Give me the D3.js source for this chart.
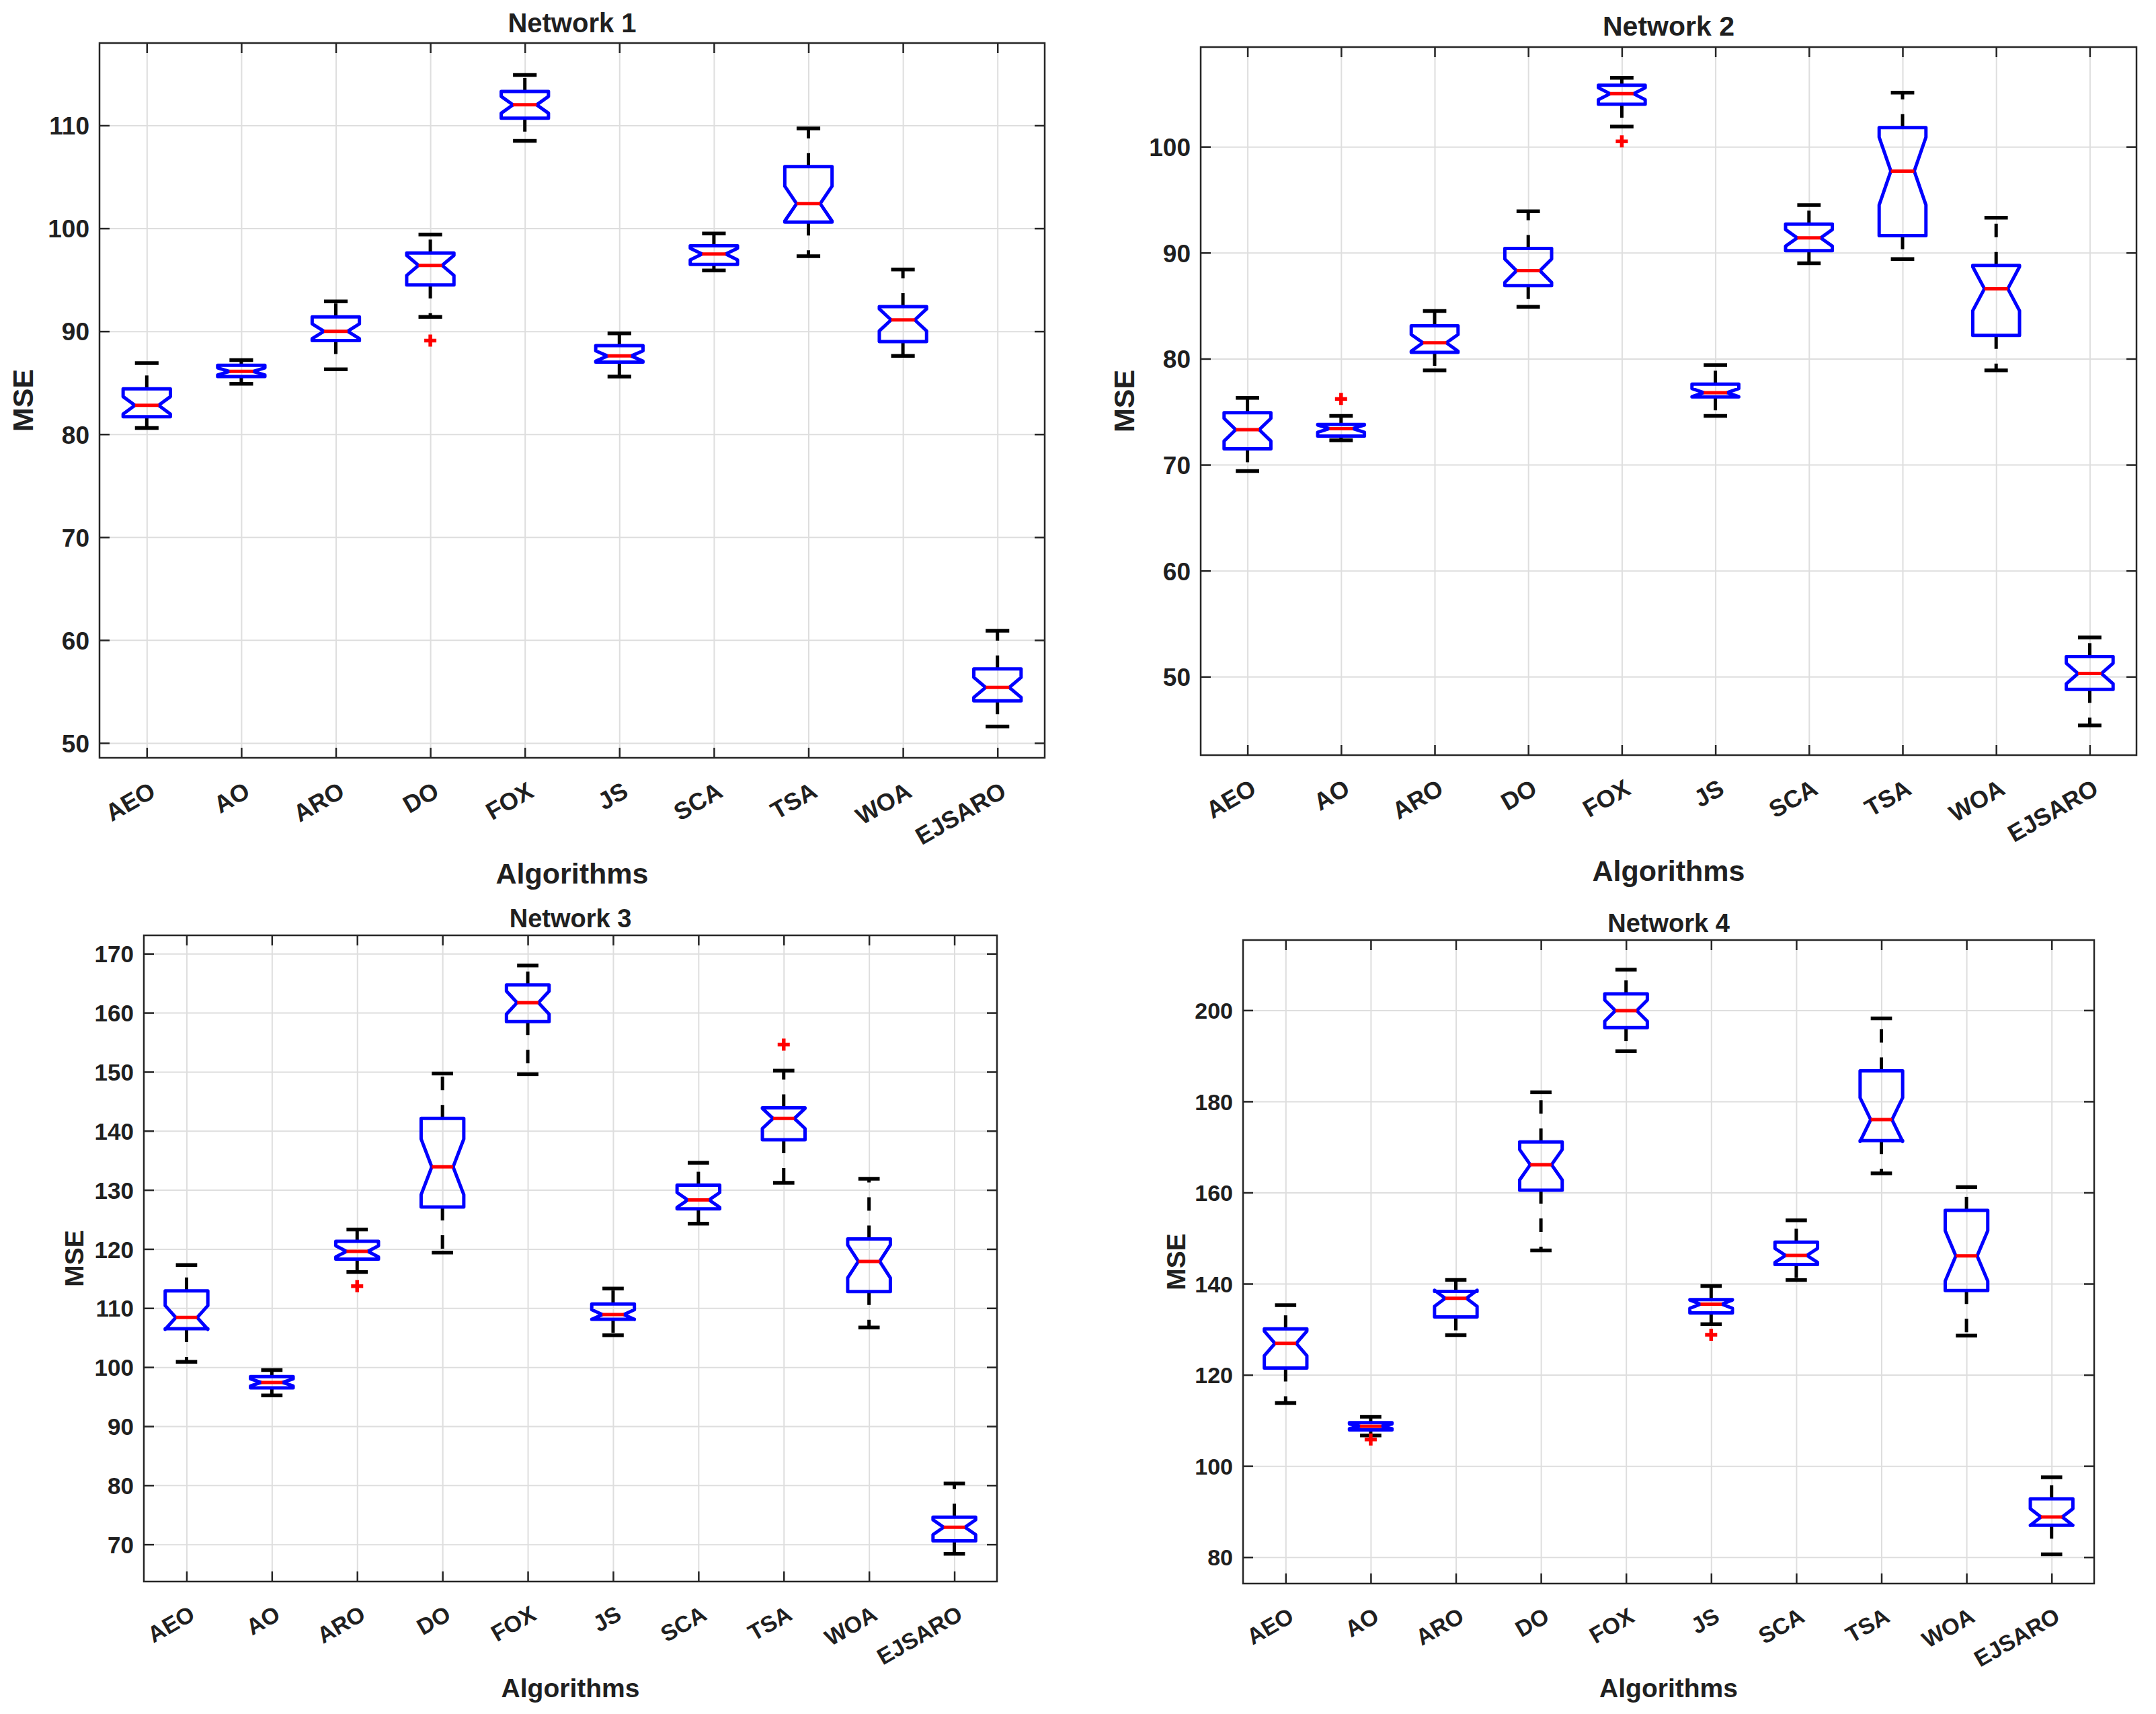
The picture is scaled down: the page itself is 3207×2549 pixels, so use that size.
<!DOCTYPE html>
<html>
<head>
<meta charset="utf-8">
<script src="https://cdn.jsdelivr.net/npm/d3@7"></script>
<style>
  body { margin: 0; background: #fff; }
  text { font-family: "Liberation Sans", Arial, sans-serif; font-weight: bold; fill: #202020; }
</style>
</head>
<body>
<script>
// algorithms on the x axis
var algorithms = ["AEO", "AO", "ARO", "DO", "FOX", "JS", "SCA", "TSA", "WOA", "EJSARO"];

// box statistics: lower whisker, q1, median, q3, upper whisker
var net1Lo  = [80.6, 84.9, 86.3, 91.4, 108.5, 85.6, 95.9, 97.3, 87.6, 51.6];
var net1Q1  = [81.7, 85.6, 89.1, 94.5, 110.7, 87.0, 96.5, 100.6, 89.0, 54.1];
var net1Med = [82.8, 86.1, 90.0, 96.4, 112.0, 87.6, 97.5, 102.4, 91.1, 55.4];
var net1Q3  = [84.4, 86.7, 91.4, 97.6, 113.3, 88.6, 98.3, 106.0, 92.4, 57.2];
var net1Hi  = [86.9, 87.2, 92.9, 99.4, 114.9, 89.8, 99.5, 109.7, 96.0, 60.9];
var net1Out = [["DO", 89.1]];

var net2Lo  = [69.4, 72.3, 78.9, 84.9, 101.9, 74.6, 89.0, 89.4, 78.9, 45.4];
var net2Q1  = [71.5, 72.7, 80.6, 86.9, 104.0, 76.4, 90.2, 91.6, 82.2, 48.8];
var net2Med = [73.3, 73.4, 81.5, 88.3, 105.0, 76.8, 91.4, 97.7, 86.6, 50.3];
var net2Q3  = [74.9, 73.8, 83.1, 90.4, 105.8, 77.6, 92.7, 101.8, 88.8, 51.9];
var net2Hi  = [76.3, 74.6, 84.5, 93.9, 106.5, 79.4, 94.5, 105.1, 93.3, 53.7];
var net2Out = [["AO", 76.2], ["FOX", 100.5]];

var net3Lo  = [100.9, 95.2, 116.1, 119.4, 149.6, 105.4, 124.3, 131.2, 106.7, 68.4];
var net3Q1  = [106.5, 96.5, 118.3, 127.1, 158.5, 108.1, 126.8, 138.5, 112.8, 70.6];
var net3Med = [108.4, 97.4, 119.6, 133.9, 161.7, 108.9, 128.3, 142.1, 117.9, 72.9];
var net3Q3  = [112.9, 98.4, 121.3, 142.1, 164.7, 110.7, 130.8, 143.9, 121.7, 74.6];
var net3Hi  = [117.3, 99.5, 123.3, 149.7, 168.0, 113.3, 134.6, 150.2, 131.9, 80.3];
var net3Out = [["ARO", 113.7], ["TSA", 154.6]];

var net4Lo  = [113.8, 106.7, 128.7, 147.3, 191.0, 131.1, 140.8, 164.2, 128.6, 80.6];
var net4Q1  = [121.5, 107.9, 132.7, 160.5, 196.2, 133.6, 144.2, 171.4, 138.5, 87.0];
var net4Med = [126.9, 108.7, 136.8, 166.1, 199.9, 135.5, 146.2, 176.0, 146.1, 88.8];
var net4Q3  = [130.1, 109.5, 138.3, 171.1, 203.6, 136.5, 149.1, 186.7, 156.1, 92.8];
var net4Hi  = [135.3, 110.8, 140.8, 182.0, 208.9, 139.5, 153.9, 198.2, 161.2, 97.5];
var net4Out = [["AO", 105.8], ["JS", 128.8]];

var net1Ticks = [50, 60, 70, 80, 90, 100, 110];
var net2Ticks = [50, 60, 70, 80, 90, 100];
var net3Ticks = [70, 80, 90, 100, 110, 120, 130, 140, 150, 160, 170];
var net4Ticks = [80, 100, 120, 140, 160, 180, 200];

var runs = 25; // samples per algorithm, used for the notch width

var width = 3207, height = 2549;

var svg = d3.select("body").append("svg")
    .attr("width", width)
    .attr("height", height);

var panels = [
  { title: "Network 1", lo: net1Lo, q1: net1Q1, med: net1Med, q3: net1Q3, hi: net1Hi, out: net1Out, ticks: net1Ticks,
    yDomain: [48.56, 118], left: 148, right: 1554, top: 64, bottom: 1127,
    titleY: 34, titleSize: 40, tickSize: 37, xSize: 36, labelSize: 43, mseX: 34, algY: 1299 },
  { title: "Network 2", lo: net2Lo, q1: net2Q1, med: net2Med, q3: net2Q3, hi: net2Hi, out: net2Out, ticks: net2Ticks,
    yDomain: [42.6, 109.4], left: 1786, right: 3178, top: 70, bottom: 1123,
    titleY: 38, titleSize: 41, tickSize: 37, xSize: 36, labelSize: 43, mseX: 1672, algY: 1295 },
  { title: "Network 3", lo: net3Lo, q1: net3Q1, med: net3Med, q3: net3Q3, hi: net3Hi, out: net3Out, ticks: net3Ticks,
    yDomain: [63.7, 173.1], left: 214, right: 1483, top: 1391, bottom: 2352,
    titleY: 1365, titleSize: 38, tickSize: 35, xSize: 34, labelSize: 39, mseX: 110, algY: 2510 },
  { title: "Network 4", lo: net4Lo, q1: net4Q1, med: net4Med, q3: net4Q3, hi: net4Hi, out: net4Out, ticks: net4Ticks,
    yDomain: [74.2, 215.4], left: 1849, right: 3115, top: 1398, bottom: 2355,
    titleY: 1372, titleSize: 38, tickSize: 34, xSize: 34, labelSize: 39, mseX: 1749, algY: 2510 }
];

panels.forEach(drawPanel);

function drawPanel(p)
{
    var w = p.right - p.left,
        h = p.bottom - p.top;

    var x = d3.scalePoint()
        .domain(algorithms)
        .range([p.left, p.right])
        .padding(0.5);
    var y = d3.scaleLinear()
        .domain(p.yDomain)
        .range([p.bottom, p.top]);

    var step = x.step();
    var bw = step * 0.5;

    var g = svg.append("g");

    // grid
    g.append("g")
        .attr("transform", "translate(0," + p.bottom + ")")
        .call(d3.axisBottom(x).tickSize(-h).tickFormat(""))
        .call(function (s) {
            s.select(".domain").remove();
            s.selectAll("line").attr("stroke", "#dedede").attr("stroke-width", 2);
        });
    g.append("g")
        .attr("transform", "translate(" + p.left + ",0)")
        .call(d3.axisLeft(y).tickValues(p.ticks).tickSize(-w).tickFormat(""))
        .call(function (s) {
            s.select(".domain").remove();
            s.selectAll("line").attr("stroke", "#dedede").attr("stroke-width", 2);
        });

    // frame
    g.append("rect")
        .attr("x", p.left)
        .attr("y", p.top)
        .attr("width", w)
        .attr("height", h)
        .attr("fill", "none")
        .attr("stroke", "#262626")
        .attr("stroke-width", 2.5);

    // inward ticks on all four sides
    function tickStyle(s) {
        s.select(".domain").remove();
        s.selectAll("line").attr("stroke", "#262626").attr("stroke-width", 2.5);
    }
    var yl = g.append("g")
        .attr("transform", "translate(" + p.left + ",0)")
        .call(d3.axisLeft(y).tickValues(p.ticks).tickSize(-15).tickPadding(15))
        .call(tickStyle);
    yl.selectAll("text")
        .attr("font-size", p.tickSize)
        .attr("dy", "0.36em")
        .style("font-family", "'Liberation Sans', Arial, sans-serif")
        .style("font-weight", "bold")
        .attr("fill", "#202020");

    g.append("g")
        .attr("transform", "translate(" + p.right + ",0)")
        .call(d3.axisRight(y).tickValues(p.ticks).tickSize(-15).tickFormat(""))
        .call(tickStyle);
    g.append("g")
        .attr("transform", "translate(0," + p.top + ")")
        .call(d3.axisTop(x).tickSize(-15).tickFormat(""))
        .call(tickStyle);

    var xb = g.append("g")
        .attr("transform", "translate(0," + p.bottom + ")")
        .call(d3.axisBottom(x).tickSize(-15))
        .call(tickStyle);
    xb.selectAll("text")
        .attr("font-size", p.xSize)
        .style("font-family", "'Liberation Sans', Arial, sans-serif")
        .style("font-weight", "bold")
        .attr("fill", "#202020")
        .attr("text-anchor", "end")
        .attr("x", 2)
        .attr("y", 34)
        .attr("dy", "0.72em")
        .attr("transform", "rotate(-30,2,34)");

    // boxes
    var line = d3.line();
    algorithms.forEach(function (name, i) {
        var cx = x(name);
        var q1 = p.q1[i], q3 = p.q3[i], med = p.med[i];
        var notch = 1.57 * (q3 - q1) / Math.sqrt(runs);
        var nHi = med + notch, nLo = med - notch;

        // whiskers
        g.append("path")
            .attr("d", line([[cx, y(q3)], [cx, y(p.hi[i])]]))
            .attr("stroke", "#000")
            .attr("stroke-width", 5)
            .attr("stroke-dasharray", "20,22");
        g.append("path")
            .attr("d", line([[cx, y(q1)], [cx, y(p.lo[i])]]))
            .attr("stroke", "#000")
            .attr("stroke-width", 5)
            .attr("stroke-dasharray", "20,22");

        // caps
        [p.hi[i], p.lo[i]].forEach(function (v) {
            g.append("path")
                .attr("d", line([[cx - bw / 4, y(v)], [cx + bw / 4, y(v)]]))
                .attr("stroke", "#000")
                .attr("stroke-width", 5.5);
        });

        // notched box
        g.append("path")
            .attr("d", line([
                [cx - bw / 2, y(q3)], [cx + bw / 2, y(q3)], [cx + bw / 2, y(nHi)],
                [cx + bw / 4, y(med)], [cx + bw / 2, y(nLo)], [cx + bw / 2, y(q1)],
                [cx - bw / 2, y(q1)], [cx - bw / 2, y(nLo)], [cx - bw / 4, y(med)],
                [cx - bw / 2, y(nHi)]
            ]) + "Z")
            .attr("fill", "none")
            .attr("stroke", "#0000ff")
            .attr("stroke-width", 5)
            .attr("stroke-linejoin", "round");

        // median
        g.append("path")
            .attr("d", line([[cx - bw / 4, y(med)], [cx + bw / 4, y(med)]]))
            .attr("stroke", "#ff0000")
            .attr("stroke-width", 5);
    });

    // outliers
    g.selectAll(".outlier")
        .data(p.out)
        .enter()
        .append("path")
        .attr("class", "outlier")
        .attr("transform", function (d) { return "translate(" + x(d[0]) + "," + y(d[1]) + ")"; })
        .attr("d", "M-9,0H9M0,-9V9")
        .attr("stroke", "#ff0000")
        .attr("stroke-width", 5.5);

    // labels
    g.append("text")
        .attr("x", (p.left + p.right) / 2)
        .attr("y", p.titleY)
        .attr("dy", "0.36em")
        .attr("text-anchor", "middle")
        .attr("font-size", p.titleSize)
        .text(p.title);

    g.append("text")
        .attr("x", (p.left + p.right) / 2)
        .attr("y", p.algY)
        .attr("dy", "0.36em")
        .attr("text-anchor", "middle")
        .attr("font-size", p.labelSize)
        .text("Algorithms");

    g.append("text")
        .attr("transform", "translate(" + p.mseX + "," + ((p.top + p.bottom) / 2) + ") rotate(-90)")
        .attr("dy", "0.36em")
        .attr("text-anchor", "middle")
        .attr("font-size", p.labelSize)
        .text("MSE");
}
</script>
</body>
</html>
